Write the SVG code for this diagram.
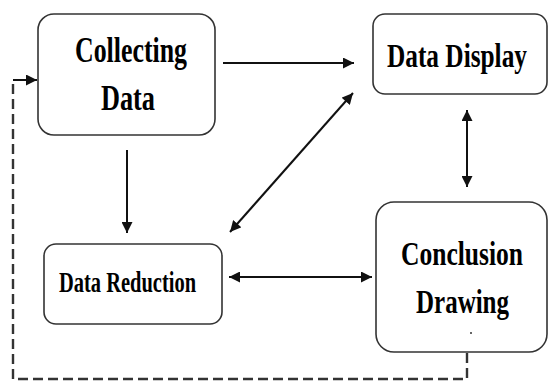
<svg xmlns="http://www.w3.org/2000/svg" width="549" height="382" viewBox="0 0 549 382">
<style>
.box{fill:#fff;stroke:#333;stroke-width:1.6}
.t{font-family:"Liberation Serif",serif;font-weight:bold;fill:#000}
.c{fill:none;stroke:#111;stroke-width:2}
.d{fill:none;stroke:#333;stroke-width:2.4;stroke-dasharray:10 5}
</style>
<defs>
<marker id="ah" viewBox="0 0 10 10" refX="10" refY="5" markerWidth="6" markerHeight="5.5" orient="auto-start-reverse" markerUnits="strokeWidth">
<path d="M0,0 L10,5 L0,10 z" fill="#111"/>
</marker>
</defs>
<rect width="549" height="382" fill="#fff"/>
<g id="collecting-data">
<rect class="box" x="38" y="14" width="177" height="121" rx="16"/>
<text class="t" transform="translate(75,62) scale(0.72,1)" font-size="36" textLength="155.6" lengthAdjust="spacingAndGlyphs">Collecting</text>
<text class="t" transform="translate(101,110) scale(0.72,1)" font-size="36" textLength="75" lengthAdjust="spacingAndGlyphs">Data</text>
</g>
<g id="data-display">
<rect class="box" x="373" y="14" width="174" height="80" rx="12"/>
<text class="t" transform="translate(387,67) scale(0.72,1)" font-size="34" textLength="194.4" lengthAdjust="spacingAndGlyphs">Data Display</text>
</g>
<g id="data-reduction">
<rect class="box" x="44" y="244" width="178" height="80" rx="12"/>
<text class="t" transform="translate(59,292) scale(0.72,1)" font-size="30" textLength="190.3" lengthAdjust="spacingAndGlyphs">Data Reduction</text>
</g>
<g id="conclusion-drawing">
<rect class="box" x="376" y="202" width="171" height="150" rx="18"/>
<text class="t" transform="translate(401,265) scale(0.72,1)" font-size="34" textLength="169.4" lengthAdjust="spacingAndGlyphs">Conclusion</text>
<text class="t" transform="translate(416,313) scale(0.72,1)" font-size="34" textLength="129.2" lengthAdjust="spacingAndGlyphs">Drawing</text>
<circle cx="471" cy="333" r="1" fill="#333"/>
</g>
<g id="connectors">
<line class="c" x1="223" y1="63" x2="354" y2="63" marker-end="url(#ah)"/>
<line class="c" x1="127" y1="150" x2="127" y2="233" marker-end="url(#ah)"/>
<line class="c" x1="230" y1="232" x2="353" y2="93" marker-start="url(#ah)" marker-end="url(#ah)"/>
<line class="c" x1="229" y1="277" x2="372" y2="277" marker-start="url(#ah)" marker-end="url(#ah)"/>
<line class="c" x1="467" y1="110" x2="467" y2="187" marker-start="url(#ah)" marker-end="url(#ah)"/>
<path class="d" d="M467,353 V379 H13 V80"/>
<line class="c" x1="13" y1="80" x2="37" y2="80" marker-end="url(#ah)"/>
</g>
</svg>
